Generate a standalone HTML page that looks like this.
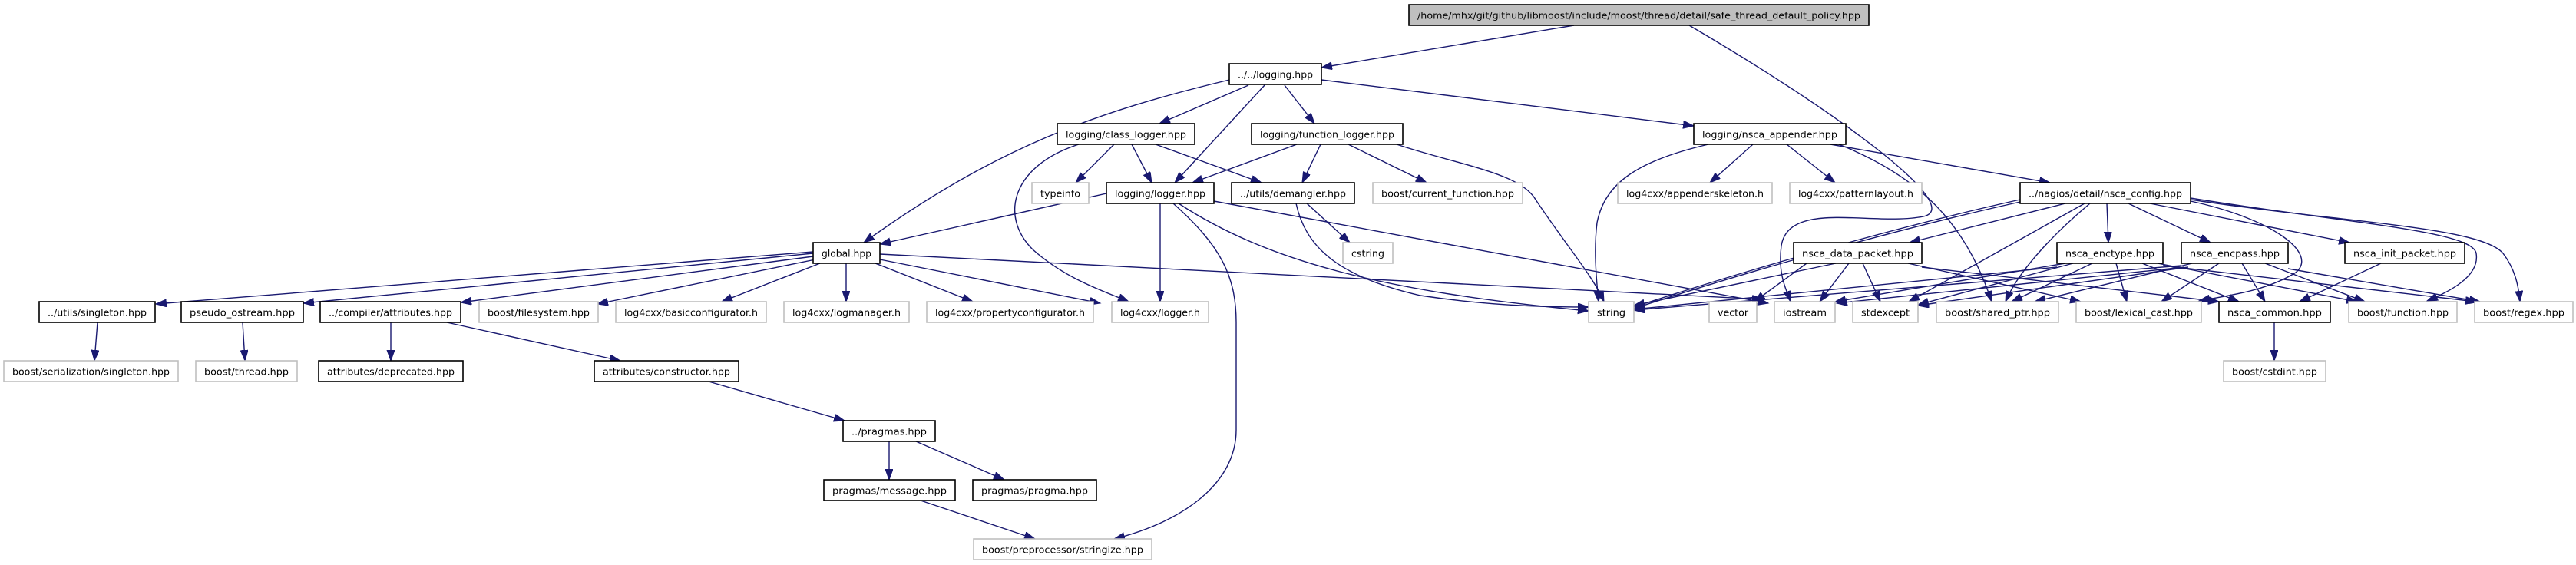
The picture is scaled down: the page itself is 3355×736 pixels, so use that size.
<!DOCTYPE html>
<html><head><meta charset="utf-8"><style>
html,body{margin:0;padding:0;background:#fff;}
svg{display:block;}
text{font-family:"DejaVu Sans","Liberation Sans",sans-serif;font-size:12px;fill:#000;}
.e{fill:none;stroke:#191970;stroke-width:1.4;marker-end:url(#a);}
.b{fill:#fff;stroke:#000;stroke-width:1.6;}
.g{fill:#fff;stroke:#bfbfbf;stroke-width:1.6;}
.r{fill:#bfbfbf;stroke:#000;stroke-width:1.6;}
</style></head><body>
<svg width="3355" height="736" viewBox="0 0 3355 736" xmlns="http://www.w3.org/2000/svg">
<defs><marker id="a" markerUnits="userSpaceOnUse" markerWidth="16" markerHeight="12" refX="14" refY="5" orient="auto"><path d="M0,0 L14,5 L0,10 z" fill="#191970" stroke="#191970"/></marker></defs>
<g>
<path class="e" d="M2050,33 L1721,88"/>
<path class="e" d="M2200,33 C2400,150 2560,270 2505,282 C2440,295 2330,260 2320,320 C2315,360 2328,380 2332,393"/>
<path class="e" d="M1626,111 L1510,161"/>
<path class="e" d="M1647,111 L1530,238"/>
<path class="e" d="M1673,111 L1712,161"/>
<path class="e" d="M1721,104 L2206,164"/>
<path class="e" d="M1601,104 C1430,145 1300,190 1125,316"/>
<path class="e" d="M1451,188 L1401,238"/>
<path class="e" d="M1474,188 L1500,238"/>
<path class="e" d="M1505,188 L1643,238"/>
<path class="e" d="M1405,188 C1320,215 1300,280 1345,325 C1390,365 1440,380 1470,393"/>
<path class="e" d="M1689,188 L1553,238"/>
<path class="e" d="M1720,188 L1696,238"/>
<path class="e" d="M1756,188 L1858,238"/>
<path class="e" d="M1819,188 C1900,215 1980,225 2000,260 C2040,320 2075,360 2089,393"/>
<path class="e" d="M2225,188 C2130,210 2090,240 2080,290 C2075,330 2080,370 2082,393"/>
<path class="e" d="M2283,188 L2227,238"/>
<path class="e" d="M2327,188 L2390,238"/>
<path class="e" d="M2384,188 L2670,238"/>
<path class="e" d="M2395,188 C2500,230 2560,290 2594,393"/>
<path class="e" d="M1441,252 L1146,318"/>
<path class="e" d="M1511,265 L1511,393"/>
<path class="e" d="M1528,265 C1590,320 1610,360 1610,420 L1610,560 C1610,630 1540,680 1451,702"/>
<path class="e" d="M1535,265 C1650,340 1800,380 2069,405"/>
<path class="e" d="M1581,262 L2303,395"/>
<path class="e" d="M1702,265 L1758,316"/>
<path class="e" d="M1688,265 C1700,320 1740,360 1850,385 C1950,400 2030,400 2069,400"/>
<path class="e" d="M1059,328 L203,396"/>
<path class="e" d="M1059,330 L395,395"/>
<path class="e" d="M1059,334 L600,394"/>
<path class="e" d="M1062,338 L778,396"/>
<path class="e" d="M1068,343 L940,393"/>
<path class="e" d="M1102,343 L1102,393"/>
<path class="e" d="M1140,343 L1267,393"/>
<path class="e" d="M1146,338 L1433,395"/>
<path class="e" d="M1146,331 L2296,390"/>
<path class="e" d="M509,420 L509,470"/>
<path class="e" d="M582,420 L808,470"/>
<path class="e" d="M127,420 L123,470"/>
<path class="e" d="M316,420 L319,470"/>
<path class="e" d="M923,497 L1100,548"/>
<path class="e" d="M1158,575 L1158,625"/>
<path class="e" d="M1193,575 L1308,625"/>
<path class="e" d="M1199,652 L1348,702"/>
<path class="e" d="M2690,265 L2487,316"/>
<path class="e" d="M2631,260 C2450,300 2250,360 2128,400"/>
<path class="e" d="M2631,263 C2450,303 2250,362 2128,402"/>
<path class="e" d="M2715,265 L2486,393"/>
<path class="e" d="M2722,265 C2680,300 2630,350 2612,393"/>
<path class="e" d="M2744,265 L2746,316"/>
<path class="e" d="M2772,265 L2879,316"/>
<path class="e" d="M2800,265 L3060,316"/>
<path class="e" d="M2853,262 C2960,285 3020,330 2990,355 C2950,380 2900,385 2864,392"/>
<path class="e" d="M2853,258 C3050,290 3220,300 3225,330 C3230,360 3190,380 3161,392"/>
<path class="e" d="M2853,260 C3050,290 3230,295 3260,330 C3275,350 3280,370 3282,393"/>
<path class="e" d="M2353,343 L2285,393"/>
<path class="e" d="M2408,343 L2370,393"/>
<path class="e" d="M2426,343 L2449,393"/>
<path class="e" d="M2391,343 L2128,398"/>
<path class="e" d="M2485,343 L2710,393"/>
<path class="e" d="M2503,348 L2890,393"/>
<path class="e" d="M2679,348 L2128,403"/>
<path class="e" d="M2690,343 L2390,393"/>
<path class="e" d="M2700,343 L2498,397"/>
<path class="e" d="M2725,343 L2620,393"/>
<path class="e" d="M2756,343 L2770,393"/>
<path class="e" d="M2790,343 L2916,393"/>
<path class="e" d="M2810,343 L3070,393"/>
<path class="e" d="M2817,346 L3225,393"/>
<path class="e" d="M2841,346 L2128,404"/>
<path class="e" d="M2845,348 L2392,395"/>
<path class="e" d="M2850,348 L2498,398"/>
<path class="e" d="M2855,343 L2650,393"/>
<path class="e" d="M2890,343 L2815,393"/>
<path class="e" d="M2920,343 L2950,393"/>
<path class="e" d="M2950,343 L3080,393"/>
<path class="e" d="M2980,350 L3230,393"/>
<path class="e" d="M3101,343 L2995,393"/>
<path class="e" d="M2962,420 L2962,470"/>
</g>
<g>
<rect class="r" x="1835" y="6" width="599" height="27"/><text x="2134.5" y="24.5" text-anchor="middle" textLength="577" lengthAdjust="spacingAndGlyphs">/home/mhx/git/github/libmoost/include/moost/thread/detail/safe_thread_default_policy.hpp</text>
<rect class="b" x="1601" y="83" width="120" height="27"/><text x="1661" y="101.5" text-anchor="middle" textLength="98" lengthAdjust="spacingAndGlyphs">../../logging.hpp</text>
<rect class="b" x="1377" y="161" width="179" height="27"/><text x="1466.5" y="179.5" text-anchor="middle" textLength="157" lengthAdjust="spacingAndGlyphs">logging/class_logger.hpp</text>
<rect class="b" x="1630" y="161" width="197" height="27"/><text x="1728.5" y="179.5" text-anchor="middle" textLength="175" lengthAdjust="spacingAndGlyphs">logging/function_logger.hpp</text>
<rect class="b" x="2206" y="161" width="198" height="27"/><text x="2305" y="179.5" text-anchor="middle" textLength="176" lengthAdjust="spacingAndGlyphs">logging/nsca_appender.hpp</text>
<rect class="g" x="1344" y="238" width="74" height="27"/><text x="1381" y="256.5" text-anchor="middle" textLength="52" lengthAdjust="spacingAndGlyphs">typeinfo</text>
<rect class="b" x="1441" y="238" width="140" height="27"/><text x="1511" y="256.5" text-anchor="middle" textLength="118" lengthAdjust="spacingAndGlyphs">logging/logger.hpp</text>
<rect class="b" x="1604" y="238" width="160" height="27"/><text x="1684" y="256.5" text-anchor="middle" textLength="138" lengthAdjust="spacingAndGlyphs">../utils/demangler.hpp</text>
<rect class="g" x="1788" y="238" width="195" height="27"/><text x="1885.5" y="256.5" text-anchor="middle" textLength="173" lengthAdjust="spacingAndGlyphs">boost/current_function.hpp</text>
<rect class="g" x="2107" y="238" width="201" height="27"/><text x="2207.5" y="256.5" text-anchor="middle" textLength="179" lengthAdjust="spacingAndGlyphs">log4cxx/appenderskeleton.h</text>
<rect class="g" x="2331" y="238" width="172" height="27"/><text x="2417" y="256.5" text-anchor="middle" textLength="150" lengthAdjust="spacingAndGlyphs">log4cxx/patternlayout.h</text>
<rect class="b" x="2631" y="238" width="222" height="27"/><text x="2742" y="256.5" text-anchor="middle" textLength="200" lengthAdjust="spacingAndGlyphs">../nagios/detail/nsca_config.hpp</text>
<rect class="b" x="1059" y="316" width="87" height="27"/><text x="1102.5" y="334.5" text-anchor="middle" textLength="65" lengthAdjust="spacingAndGlyphs">global.hpp</text>
<rect class="g" x="1749" y="316" width="65" height="27"/><text x="1781.5" y="334.5" text-anchor="middle" textLength="43" lengthAdjust="spacingAndGlyphs">cstring</text>
<rect class="b" x="2336" y="316" width="167" height="27"/><text x="2419.5" y="334.5" text-anchor="middle" textLength="145" lengthAdjust="spacingAndGlyphs">nsca_data_packet.hpp</text>
<rect class="b" x="2679" y="316" width="138" height="27"/><text x="2748" y="334.5" text-anchor="middle" textLength="116" lengthAdjust="spacingAndGlyphs">nsca_enctype.hpp</text>
<rect class="b" x="2841" y="316" width="139" height="27"/><text x="2910.5" y="334.5" text-anchor="middle" textLength="117" lengthAdjust="spacingAndGlyphs">nsca_encpass.hpp</text>
<rect class="b" x="3054" y="316" width="156" height="27"/><text x="3132" y="334.5" text-anchor="middle" textLength="134" lengthAdjust="spacingAndGlyphs">nsca_init_packet.hpp</text>
<rect class="b" x="51" y="393" width="151" height="27"/><text x="126.5" y="411.5" text-anchor="middle" textLength="129" lengthAdjust="spacingAndGlyphs">../utils/singleton.hpp</text>
<rect class="b" x="236" y="393" width="159" height="27"/><text x="315.5" y="411.5" text-anchor="middle" textLength="137" lengthAdjust="spacingAndGlyphs">pseudo_ostream.hpp</text>
<rect class="b" x="417" y="393" width="183" height="27"/><text x="508.5" y="411.5" text-anchor="middle" textLength="161" lengthAdjust="spacingAndGlyphs">../compiler/attributes.hpp</text>
<rect class="g" x="624" y="393" width="155" height="27"/><text x="701.5" y="411.5" text-anchor="middle" textLength="133" lengthAdjust="spacingAndGlyphs">boost/filesystem.hpp</text>
<rect class="g" x="802" y="393" width="196" height="27"/><text x="900" y="411.5" text-anchor="middle" textLength="174" lengthAdjust="spacingAndGlyphs">log4cxx/basicconfigurator.h</text>
<rect class="g" x="1021" y="393" width="163" height="27"/><text x="1102.5" y="411.5" text-anchor="middle" textLength="141" lengthAdjust="spacingAndGlyphs">log4cxx/logmanager.h</text>
<rect class="g" x="1207" y="393" width="217" height="27"/><text x="1315.5" y="411.5" text-anchor="middle" textLength="195" lengthAdjust="spacingAndGlyphs">log4cxx/propertyconfigurator.h</text>
<rect class="g" x="1448" y="393" width="126" height="27"/><text x="1511" y="411.5" text-anchor="middle" textLength="104" lengthAdjust="spacingAndGlyphs">log4cxx/logger.h</text>
<rect class="g" x="2069" y="393" width="59" height="27"/><text x="2098.5" y="411.5" text-anchor="middle" textLength="37" lengthAdjust="spacingAndGlyphs">string</text>
<rect class="g" x="2226" y="393" width="62" height="27"/><text x="2257" y="411.5" text-anchor="middle" textLength="40" lengthAdjust="spacingAndGlyphs">vector</text>
<rect class="g" x="2311" y="393" width="79" height="27"/><text x="2350.5" y="411.5" text-anchor="middle" textLength="57" lengthAdjust="spacingAndGlyphs">iostream</text>
<rect class="g" x="2413" y="393" width="85" height="27"/><text x="2455.5" y="411.5" text-anchor="middle" textLength="63" lengthAdjust="spacingAndGlyphs">stdexcept</text>
<rect class="g" x="2522" y="393" width="159" height="27"/><text x="2601.5" y="411.5" text-anchor="middle" textLength="137" lengthAdjust="spacingAndGlyphs">boost/shared_ptr.hpp</text>
<rect class="g" x="2704" y="393" width="163" height="27"/><text x="2785.5" y="411.5" text-anchor="middle" textLength="141" lengthAdjust="spacingAndGlyphs">boost/lexical_cast.hpp</text>
<rect class="b" x="2890" y="393" width="145" height="27"/><text x="2962.5" y="411.5" text-anchor="middle" textLength="123" lengthAdjust="spacingAndGlyphs">nsca_common.hpp</text>
<rect class="g" x="3059" y="393" width="141" height="27"/><text x="3129.5" y="411.5" text-anchor="middle" textLength="119" lengthAdjust="spacingAndGlyphs">boost/function.hpp</text>
<rect class="g" x="3223" y="393" width="128" height="27"/><text x="3287" y="411.5" text-anchor="middle" textLength="106" lengthAdjust="spacingAndGlyphs">boost/regex.hpp</text>
<rect class="g" x="5" y="470" width="227" height="27"/><text x="118.5" y="488.5" text-anchor="middle" textLength="205" lengthAdjust="spacingAndGlyphs">boost/serialization/singleton.hpp</text>
<rect class="g" x="255" y="470" width="132" height="27"/><text x="321" y="488.5" text-anchor="middle" textLength="110" lengthAdjust="spacingAndGlyphs">boost/thread.hpp</text>
<rect class="b" x="415" y="470" width="188" height="27"/><text x="509" y="488.5" text-anchor="middle" textLength="166" lengthAdjust="spacingAndGlyphs">attributes/deprecated.hpp</text>
<rect class="b" x="774" y="470" width="188" height="27"/><text x="868" y="488.5" text-anchor="middle" textLength="166" lengthAdjust="spacingAndGlyphs">attributes/constructor.hpp</text>
<rect class="g" x="2896" y="470" width="133" height="27"/><text x="2962.5" y="488.5" text-anchor="middle" textLength="111" lengthAdjust="spacingAndGlyphs">boost/cstdint.hpp</text>
<rect class="b" x="1098" y="548" width="120" height="27"/><text x="1158" y="566.5" text-anchor="middle" textLength="98" lengthAdjust="spacingAndGlyphs">../pragmas.hpp</text>
<rect class="b" x="1073" y="625" width="171" height="27"/><text x="1158.5" y="643.5" text-anchor="middle" textLength="149" lengthAdjust="spacingAndGlyphs">pragmas/message.hpp</text>
<rect class="b" x="1267" y="625" width="161" height="27"/><text x="1347.5" y="643.5" text-anchor="middle" textLength="139" lengthAdjust="spacingAndGlyphs">pragmas/pragma.hpp</text>
<rect class="g" x="1268" y="702" width="232" height="27"/><text x="1384" y="720.5" text-anchor="middle" textLength="210" lengthAdjust="spacingAndGlyphs">boost/preprocessor/stringize.hpp</text>
</g>
</svg>
</body></html>
